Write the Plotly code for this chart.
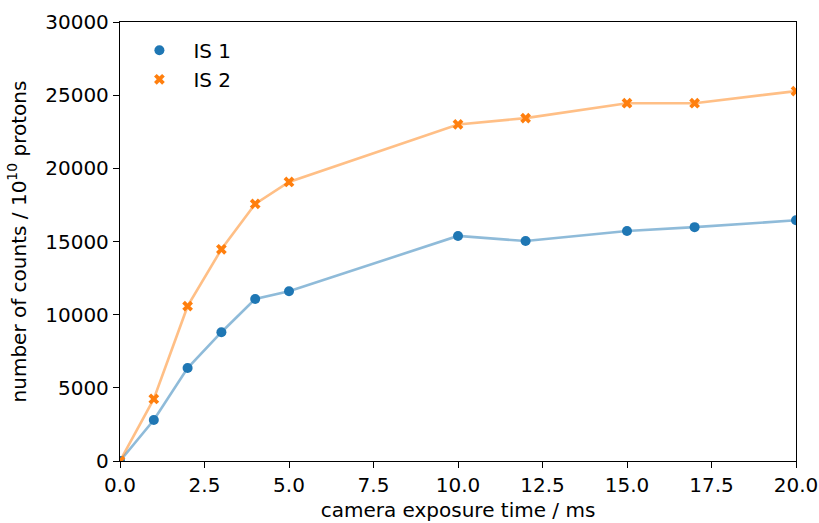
import plotly.graph_objects as go

exposure_ms = [0, 1, 2, 3, 4, 5, 10, 12, 15, 17, 20]
is1_counts = [0, 2800, 6350, 8800, 11070, 11600, 15380, 15030, 15720, 15980, 16450]
is2_counts = [0, 4240, 10580, 14470, 17570, 19070, 23000, 23430, 24450, 24450, 25280]

x_ticks = [0, 2.5, 5, 7.5, 10, 12.5, 15, 17.5, 20]
y_ticks = [0, 5000, 10000, 15000, 20000, 25000, 30000]

blue = "#1f77b4"
orange = "#ff7f0e"
font = "DejaVu Sans"
fs = 20

fig = go.Figure()
fig.add_trace(go.Scatter(x=exposure_ms, y=is1_counts, mode="lines",
                         line=dict(color="rgba(31,119,180,0.5)", width=2.6),
                         showlegend=False, hoverinfo="skip"))
fig.add_trace(go.Scatter(x=exposure_ms, y=is2_counts, mode="lines",
                         line=dict(color="rgba(255,127,14,0.5)", width=2.6),
                         showlegend=False, hoverinfo="skip"))
fig.add_trace(go.Scatter(x=exposure_ms, y=is1_counts, mode="markers", name="IS 1",
                         marker=dict(color=blue, size=10, symbol="circle"), cliponaxis=True))
fig.add_trace(go.Scatter(x=exposure_ms, y=is2_counts, mode="markers", name="IS 2",
                         marker=dict(color=orange, size=9.5, symbol="x", line=dict(width=0)),
                         cliponaxis=True))

axis_common = dict(showline=True, linecolor="black", linewidth=1.3, mirror=True,
                   ticks="outside", ticklen=6, tickwidth=1.3, tickcolor="black",
                   showgrid=False, zeroline=False, automargin=False,
                   tickfont=dict(family=font, size=fs, color="black"))

fig.update_xaxes(range=[0, 20], tickvals=x_ticks, tickformat=".1f",
                 title=dict(text="camera exposure time / ms",
                            font=dict(family=font, size=fs, color="black"), standoff=6),
                 **axis_common)
fig.update_yaxes(range=[0, 30000], tickvals=y_ticks, tickformat="d",
                 title=dict(text="number of counts / 10<sup>10</sup> protons",
                            font=dict(family=font, size=fs, color="black"), standoff=13),
                 **axis_common)

fig.update_layout(
    width=819, height=523,
    margin=dict(l=120, r=23, t=22, b=62),
    plot_bgcolor="white", paper_bgcolor="white",
    font=dict(family=font, size=fs, color="black"),
    legend=dict(x=0.008, y=0.98, xanchor="left", yanchor="top",
                bgcolor="rgba(255,255,255,0)", borderwidth=0,
                font=dict(family=font, size=fs), itemwidth=58),
)

fig.write_html("out.html")
